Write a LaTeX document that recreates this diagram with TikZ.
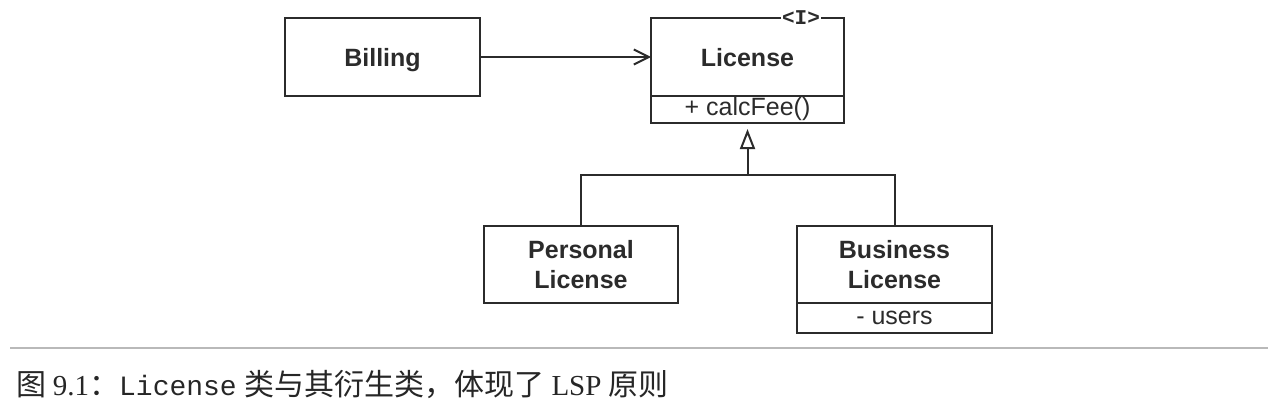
\documentclass[tikz,border=0pt]{standalone}
\usepackage{fontspec}
\setmainfont{Liberation Sans}
\newfontfamily\cjk{Noto Sans CJK SC}
\newfontfamily\serifl{Liberation Serif}
\newfontfamily\monol{Liberation Mono}
\usetikzlibrary{arrows.meta}
\definecolor{ink}{gray}{0.17}
\begin{document}
\begin{tikzpicture}[x=1pt,y=-1pt,
  box/.style={draw=ink, line width=2pt, rectangle, inner sep=0pt, outer sep=0pt, text=ink,
    font=\fontsize{25}{30}\selectfont\bfseries, align=center},
  comp/.style={draw=ink, line width=2pt, rectangle, inner sep=0pt, outer sep=0pt, text=ink,
    font=\fontsize{25}{30}\selectfont},
  conn/.style={draw=ink, line width=2pt},
  stereo/.style={fill=white, inner sep=1.5pt, text=ink, font=\monol\bfseries\fontsize{21}{21}\selectfont},
]
\useasboundingbox (0,0) rectangle (1288,412);
% classes
\node[box, text depth=0pt, minimum width=195pt, minimum height=78pt] (billing) at (382.5,57) {Billing};
\node[box, text depth=0pt, minimum width=193pt, minimum height=78pt] (lic) at (747.5,57) {License};
\node[comp, minimum width=193pt, minimum height=27pt, anchor=north] (licm) at (lic.south) {+ calcFee()};
\node[stereo] (ster) at (801,18) {<I>};
\node[box, minimum width=194pt, minimum height=77pt] (pers) at (581,264.5) {Personal\\License};
\node[box, minimum width=195pt, minimum height=77pt] (bus) at (894.5,264.5) {Business\\License};
\node[comp, minimum width=195pt, minimum height=30pt, anchor=north] (busm) at (bus.south) {- users};
% connectors
\draw[conn, -{Straight Barb[length=15pt, width=15pt]}] (billing.east) -- (lic.west);
\coordinate (j) at (747.5,175);
\draw[conn] (pers.north) |- (j);
\draw[conn] (bus.north) |- (j);
\draw[conn, -{Triangle[length=20pt, width=15pt, fill=white]}, shorten >=6pt] (j) -- (licm.south);
% caption
\draw[gray!55, line width=1.5pt] (10,348) -- (1268,348);
\node[anchor=base west, inner sep=0pt, text=black!85, font=\fontsize{28}{28}\selectfont] (cap) at (16,395)
  {\cjk\fontsize{30}{30}\selectfont 图\ \serifl\fontsize{29}{29}\selectfont 9.1\cjk\fontsize{30}{30}\selectfont ：\monol\fontsize{28}{28}\selectfont License\hspace{8pt}\cjk\fontsize{30}{30}\selectfont 类与其衍生类，体现了\ \serifl\fontsize{29}{29}\selectfont LSP \cjk\fontsize{30}{30}\selectfont 原则};
\end{tikzpicture}
\end{document}
